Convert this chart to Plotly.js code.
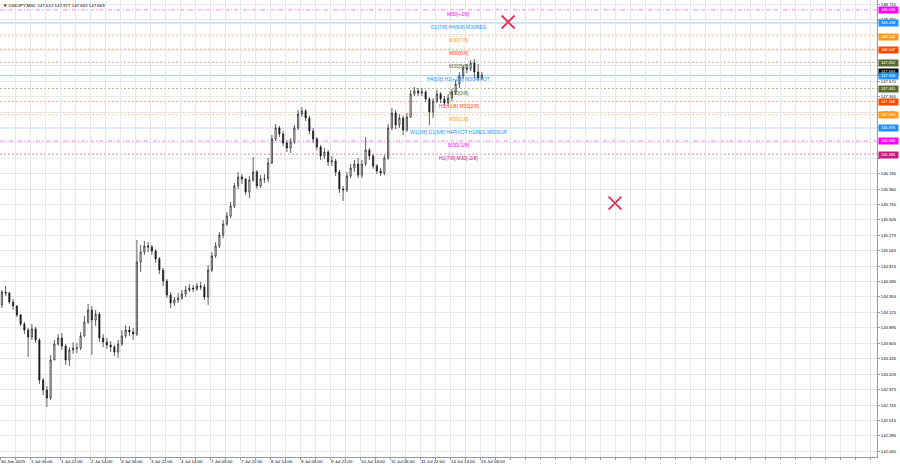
<!DOCTYPE html>
<html><head><meta charset="utf-8">
<script src="https://cdn.plot.ly/plotly-3.0.1.min.js"></script>
<style>html,body{margin:0;padding:0;background:#fff;}#chart{width:900px;height:468px;}</style>
</head><body><div id="chart"></div>
<script>
// ---- data (2-hour bars) ----
const barOpen = [144.236,144.429,144.414,144.280,144.221,144.087,143.952,143.863,143.759,143.878,
143.714,143.118,142.969,142.850,143.416,143.654,143.744,143.625,143.416,143.565,
143.595,143.595,143.774,143.982,144.161,144.012,144.101,143.744,143.684,143.640,
143.610,143.535,143.654,143.774,143.863,143.833,143.803,144.876,145.025,145.115,
145.100,145.040,144.921,144.757,144.593,144.385,144.265,144.310,144.340,144.399,
144.459,144.489,144.474,144.519,144.504,144.355,144.757,144.966,145.115,145.279,
145.442,145.562,145.711,146.009,146.143,146.113,145.919,146.098,146.217,146.009,
146.113,146.113,146.351,146.709,146.873,146.783,146.649,146.575,146.664,146.873,
147.081,147.126,147.022,146.828,146.709,146.590,146.456,146.515,146.366,146.381,
146.217,145.964,145.949,146.158,146.277,146.336,146.173,146.336,146.545,146.456,
146.307,146.232,146.202,146.426,146.873,147.096,146.918,147.022,146.843,147.037,
147.379,147.424,147.394,147.409,147.305,147.111,147.275,147.379,147.305,147.245,
147.320,147.409,147.528,147.648,147.767,147.752,147.841,147.707,147.618];
const barHigh = [144.459,144.519,144.429,144.325,144.236,144.101,143.982,143.893,143.952,143.908,
143.744,143.148,143.029,143.491,143.714,143.803,143.818,143.654,143.610,143.684,
143.669,143.833,144.072,144.250,144.221,144.161,144.131,143.803,143.744,143.699,
143.640,143.714,143.863,143.938,143.923,143.893,145.204,145.130,145.189,145.174,
145.130,145.070,144.951,144.787,144.623,144.429,144.355,144.414,144.459,144.519,
144.548,144.534,144.563,144.578,144.548,144.832,145.025,145.174,145.323,145.502,
145.621,145.770,146.053,146.217,146.187,146.128,146.158,146.441,146.247,146.173,
146.187,146.426,146.769,146.932,146.903,146.828,146.694,146.724,146.918,147.141,
147.186,147.156,147.052,146.873,146.739,146.620,146.575,146.545,146.456,146.411,
146.247,146.009,146.217,146.336,146.396,146.426,146.396,146.739,146.575,146.485,
146.336,146.277,146.471,146.932,147.171,147.141,147.081,147.052,147.096,147.439,
147.484,147.469,147.469,147.439,147.335,147.320,147.439,147.409,147.350,147.379,
147.454,147.588,147.707,147.812,147.826,147.886,147.901,147.826,147.707];
const barLow = [144.191,144.370,144.250,144.161,144.057,143.923,143.803,143.461,143.714,143.669,
143.058,142.895,142.716,142.820,143.416,143.625,143.565,143.342,143.327,143.505,
143.520,143.565,143.759,143.952,143.491,143.923,143.684,143.610,143.580,143.535,
143.476,143.446,143.625,143.744,143.774,143.714,143.774,144.727,144.981,145.025,
144.981,144.861,144.697,144.519,144.340,144.191,144.221,144.265,144.310,144.355,
144.429,144.429,144.444,144.459,144.310,144.236,144.727,144.936,145.085,145.234,
145.413,145.532,145.681,145.964,146.038,145.875,145.830,146.068,145.964,145.979,
146.053,146.068,146.336,146.679,146.739,146.605,146.515,146.500,146.634,146.843,
147.037,146.977,146.783,146.649,146.545,146.396,146.411,146.307,146.307,146.158,
145.904,145.785,145.919,146.128,146.217,146.128,146.128,146.307,146.396,146.262,
146.187,146.158,146.173,146.396,146.843,146.858,146.873,146.769,146.813,147.022,
147.350,147.350,147.350,147.260,146.918,147.022,147.245,147.245,147.201,147.201,
147.275,147.365,147.469,147.603,147.692,147.722,147.618,147.573,147.588];
const barClose = [144.429,144.414,144.280,144.221,144.087,143.952,143.863,143.759,143.878,143.714,
143.118,142.969,142.850,143.416,143.654,143.744,143.625,143.416,143.565,143.595,
143.595,143.774,143.982,144.161,144.012,144.101,143.744,143.684,143.640,143.610,
143.535,143.654,143.774,143.863,143.833,143.803,144.876,145.025,145.115,145.100,
145.040,144.921,144.757,144.593,144.385,144.265,144.310,144.340,144.399,144.459,
144.489,144.474,144.519,144.504,144.355,144.757,144.966,145.115,145.279,145.442,
145.562,145.711,146.009,146.143,146.113,145.919,146.098,146.217,146.009,146.113,
146.113,146.351,146.709,146.873,146.783,146.649,146.575,146.664,146.873,147.081,
147.126,147.022,146.828,146.709,146.590,146.456,146.515,146.366,146.381,146.217,
145.964,145.949,146.158,146.277,146.336,146.173,146.336,146.545,146.456,146.307,
146.232,146.202,146.426,146.873,147.096,146.918,147.022,146.843,147.037,147.379,
147.424,147.394,147.409,147.305,147.111,147.275,147.379,147.305,147.245,147.320,
147.409,147.528,147.648,147.767,147.752,147.841,147.707,147.618,147.663];

const timeLabels = ["30 Jun 2025","1 Jul 06:00","1 Jul 22:00","2 Jul 14:00","3 Jul 06:00","3 Jul 22:00",
"4 Jul 14:00","7 Jul 06:00","7 Jul 22:00","8 Jul 14:00","9 Jul 06:00","9 Jul 22:00","10 Jul 14:00",
"11 Jul 06:00","11 Jul 22:00","14 Jul 14:00","15 Jul 06:00"];

const priceTicks = [148.720,148.490,148.260,148.030,147.800,147.570,147.340,147.110,146.880,146.650,
146.420,146.190,145.960,145.730,145.505,145.275,145.045,144.815,144.585,144.355,144.125,143.895,
143.665,143.435,143.205,142.975,142.745,142.515,142.285,142.060];
const priceTicksCovered = [148.260,148.030,147.800,146.880,146.650,146.420];

const levelPrices = [148.633,148.438,148.242,148.047,147.852,147.656,147.461,147.266,147.070,146.875,146.680,146.484];
const levelTexts = ["M30[+1/8]","D1[7/8] H4[6/8] M30RES","M30[7/8]","M30[6/8]","M30[5/8]",
"H4[5/8] H1[+2/8] M30PIVOT","M30[3/8]","H1[+1/8] M30[2/8]","M30[1/8]",
"W1[3/8] D1[6/8] H4PIVOT H1RES M30SUP","M30[-1/8]","H1[7/8] M30[-2/8]"];
const levelKinds = ["p1","pivot","o","r","g","pivot","g","r","o","pivot","p1","p2"];

const crossX = [135.0, 163.5];
const crossY = [148.452, 145.755];
const lastPrice = 147.663;
const titleText = "\u25BC USDJPY,M30  147.612 147.677 147.662 147.663";

// ---- styles ----
const kindStyle = {
  p1:   {line:'#ff7dff', dash:'4px,2px,1px,2px', text:'#ff00ff', box:'#ff00ff'},
  pivot:{line:'#9ccdf5', dash:'solid',   text:'#1e90ff', box:'#1e90ff'},
  o:    {line:'#ffcc8c', dash:'2px,2px', text:'#ff9a1a', box:'#ff9a1a'},
  r:    {line:'#ffa285', dash:'2px,2px', text:'#ff4500', box:'#ff4500'},
  g:    {line:'#b0b894', dash:'2px,2px', text:'#556b2f', box:'#556b2f'},
  p2:   {line:'#de7cb6', dash:'2px,2px', text:'#c71585', box:'#c71585'}
};
const PX_PER_BAR = 3.75, PLOT_W = 877;
const labelFont = 'Liberation Sans, Arial, sans-serif';

const xs = barClose.map((_, i) => i);

// x ticks: gridline every 4 bars, label every 8 bars
const xTickVals = [], xTickText = [];
for (let v = -0.5; v < PLOT_W / PX_PER_BAR; v += 4) {
  xTickVals.push(v);
  const k = (v + 0.5) / 8;
  xTickText.push(Number.isInteger(k) && k < timeLabels.length ? timeLabels[k] : '');
}
const yTickText = priceTicks.map(p => priceTicksCovered.includes(p) ? '' : p.toFixed(3));

const shapes = levelPrices.map((p, i) => {
  const s = kindStyle[levelKinds[i]];
  return {type:'line', xref:'paper', x0:0, x1:1, yref:'y', y0:p, y1:p, layer:'between',
          line:{color:s.line, width:1, dash:s.dash}};
});

const annotations = [];
levelPrices.forEach((p, i) => {
  const s = kindStyle[levelKinds[i]];
  annotations.push({xref:'x', x:121.8, yref:'y', y:p, xanchor:'center', yanchor:'top',
    text:levelTexts[i], showarrow:false, font:{family:labelFont, size:5, color:s.text}, borderpad:0, yshift:0});
});
// current price box (drawn under the pivot box)
annotations.push({xref:'paper', x:1, xanchor:'left', xshift:1, yref:'y', y:lastPrice, yshift:2.5,
  text:lastPrice.toFixed(3), showarrow:false, bgcolor:'#000', width:19, height:5.5, borderpad:0,
  font:{family:labelFont, size:4, color:'#fff'}});
levelPrices.forEach((p, i) => {
  const s = kindStyle[levelKinds[i]];
  annotations.push({xref:'paper', x:1, xanchor:'left', xshift:1, yref:'y', y:p, yshift:-0.5,
    text:p.toFixed(3), showarrow:false, bgcolor:s.box, width:19, height:5.5, borderpad:0,
    font:{family:labelFont, size:4, color:'#fff'}});
});
annotations.push({xref:'paper', x:0, xanchor:'left', xshift:1, yref:'paper', y:1, yanchor:'top', yshift:-1,
  text:titleText, showarrow:false, font:{family:labelFont, size:4.4, color:'#000'}});

const traces = [
  {type:'candlestick', x:xs, open:barOpen, high:barHigh, low:barLow, close:barClose,
   increasing:{line:{color:'#1a1a1a', width:0.7}, fillcolor:'#ffffff'},
   decreasing:{line:{color:'#1a1a1a', width:0.7}, fillcolor:'#1a1a1a'},
   whiskerwidth:0, hoverinfo:'skip', showlegend:false},
  {type:'scatter', mode:'markers', x:crossX, y:crossY, hoverinfo:'skip', showlegend:false,
   marker:{symbol:'x-thin', size:13, color:'#e6335a', line:{color:'#e6335a', width:1.8}}}
];

const layout = {
  width:900, height:468,
  margin:{l:0, r:900-PLOT_W, t:0, b:11},
  paper_bgcolor:'#ffffff', plot_bgcolor:'#ffffff',
  showlegend:false,
  boxgap:0.55,
  xaxis:{range:[-0.5, -0.5 + PLOT_W/PX_PER_BAR], tickvals:xTickVals, ticktext:xTickText,
    ticklabelposition:'outside right', tickangle:0,
    showgrid:true, gridcolor:'#e8e8e8', gridwidth:1, zeroline:false,
    showline:true, linecolor:'#9a9a9a', linewidth:1, mirror:true,
    ticks:'outside', ticklen:2, tickcolor:'#9a9a9a',
    tickfont:{family:labelFont, size:4.4, color:'#000'},
    rangeslider:{visible:false}, fixedrange:true},
  yaxis:{side:'right', range:[141.971, 148.780], tickvals:priceTicks, ticktext:yTickText,
    showgrid:true, gridcolor:'#e8e8e8', gridwidth:1, zeroline:false,
    showline:true, linecolor:'#9a9a9a', linewidth:1, mirror:true,
    ticks:'outside', ticklen:2, tickcolor:'#9a9a9a',
    tickfont:{family:labelFont, size:4.2, color:'#000'}, fixedrange:true},
  shapes:shapes,
  annotations:annotations
};

Plotly.newPlot('chart', traces, layout, {displayModeBar:false, staticPlot:true});
</script></body></html>
